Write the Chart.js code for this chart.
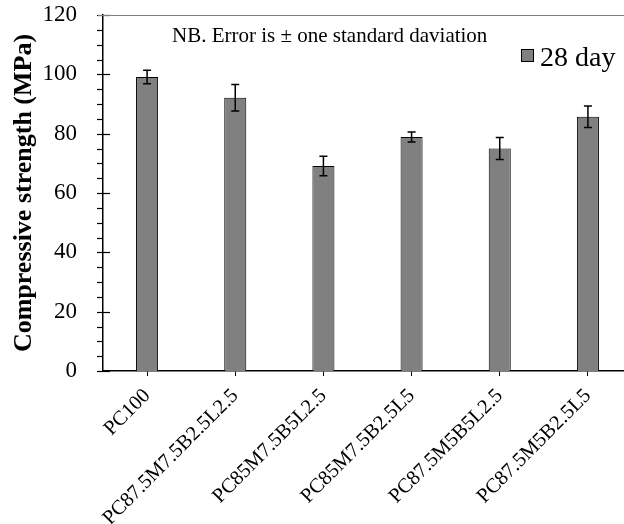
<!DOCTYPE html>
<html>
<head>
<meta charset="utf-8">
<script src="https://cdn.jsdelivr.net/npm/chart.js"></script>
<style>
  html, body { margin: 0; padding: 0; background: #fff; overflow: hidden; }
  #wrap { width: 640px; height: 524px; }
</style>
</head>
<body>
<div id="wrap"><canvas id="chart" width="640" height="524"></canvas></div>
<script>
// data
const mixes = ['PC100', 'PC87.5M7.5B2.5L2.5', 'PC85M7.5B5L2.5', 'PC85M7.5B2.5L5', 'PC87.5M5B5L2.5', 'PC87.5M5B2.5L5'];
const strength28 = [99.1, 92.1, 69.1, 78.9, 75.0, 85.7];
const stdDev28 = [2.3, 4.5, 3.3, 1.7, 3.7, 3.6];
const yMin = 0;
const yMax = 120;
const yMajorStep = 20;
const yMinorStep = 5;
const note = 'NB. Error is \u00b1 one standard daviation';

const serif = '"Liberation Serif", "Times New Roman", serif';

// error bars + axis tick marks + top frame line + legend/annotation
const extras = {
    id: 'extras',
    afterDatasetsDraw(chart) {
        const ctx = chart.ctx;
        const x = chart.scales.x;
        const y = chart.scales.y;
        const area = chart.chartArea;

        ctx.save();
        ctx.strokeStyle = '#000';
        ctx.lineWidth = 1.5;
        strength28.forEach((v, i) => {
            const px = x.getPixelForValue(i);
            const top = y.getPixelForValue(v + stdDev28[i]);
            const bot = y.getPixelForValue(v - stdDev28[i]);
            ctx.beginPath();
            ctx.moveTo(px, top); ctx.lineTo(px, bot);
            ctx.moveTo(px - 4, top); ctx.lineTo(px + 4, top);
            ctx.moveTo(px - 4, bot); ctx.lineTo(px + 4, bot);
            ctx.stroke();
        });

        // y ticks: minor outside, major crossing the axis
        ctx.lineWidth = 1.2;
        for (let v = yMin; v <= yMax; v += yMinorStep) {
            const py = Math.round(y.getPixelForValue(v)) + 0.5;
            const major = v % yMajorStep === 0;
            ctx.beginPath();
            ctx.moveTo(area.left - 6, py);
            ctx.lineTo(area.left + (major ? 7 : 0), py);
            ctx.stroke();
        }

        // top frame line
        ctx.strokeStyle = '#808080';
        ctx.lineWidth = 1;
        ctx.beginPath();
        ctx.moveTo(area.left - 5, area.top + 0.5);
        ctx.lineTo(chart.width, area.top + 0.5);
        ctx.stroke();

        // note
        ctx.fillStyle = '#000';
        ctx.font = '21px ' + serif;
        ctx.textBaseline = 'alphabetic';
        ctx.textAlign = 'left';
        ctx.fillText(note, 172, 42);

        // legend
        const ds = chart.data.datasets[0];
        ctx.fillStyle = ds.backgroundColor;
        ctx.strokeStyle = '#000';
        ctx.lineWidth = 1;
        ctx.fillRect(521, 49, 13, 13);
        ctx.strokeRect(521.5, 49.5, 12, 12);
        ctx.fillStyle = '#000';
        ctx.font = '28px ' + serif;
        ctx.fillText(ds.label, 540, 66);
        ctx.restore();
    }
};

new Chart(document.getElementById('chart'), {
    type: 'bar',
    data: {
        labels: mixes,
        datasets: [{
            label: '28 day',
            data: strength28,
            backgroundColor: '#808080',
            borderColor: '#000',
            borderWidth: 1,
            categoryPercentage: 1,
            barPercentage: 0.25
        }]
    },
    options: {
        responsive: false,
        animation: false,
        devicePixelRatio: 1,
        layout: { padding: { top: 15, right: 8, left: 0, bottom: 0 } },
        plugins: {
            legend: { display: false },
            tooltip: { enabled: false },
            title: { display: false }
        },
        scales: {
            x: {
                offset: true,
                afterFit: (s) => { s.height = 153; s.paddingLeft = 0; s.paddingRight = 0; },
                grid: {
                    display: true,
                    offset: false,
                    drawOnChartArea: false,
                    drawTicks: true,
                    tickLength: 5,
                    color: '#000'
                },
                border: { display: true, color: '#000', width: 1.5 },
                ticks: {
                    color: '#000',
                    minRotation: 45,
                    maxRotation: 45,
                    autoSkip: false,
                    padding: 8,
                    font: { family: serif, size: 20.5 }
                }
            },
            y: {
                min: yMin,
                max: yMax,
                afterFit: (s) => { s.width = 103; s.paddingTop = 0; s.paddingBottom = 0; },
                grid: { display: false },
                border: { display: true, color: '#000', width: 1.5 },
                ticks: {
                    stepSize: yMajorStep,
                    color: '#000',
                    padding: 18,
                    font: { family: serif, size: 23 }
                },
                title: {
                    display: true,
                    text: 'Compressive strength (MPa)',
                    color: '#000',
                    padding: { top: 9, bottom: 0 },
                    font: { family: serif, size: 26, weight: 'bold' }
                }
            }
        }
    },
    plugins: [extras]
});
</script>
</body>
</html>
